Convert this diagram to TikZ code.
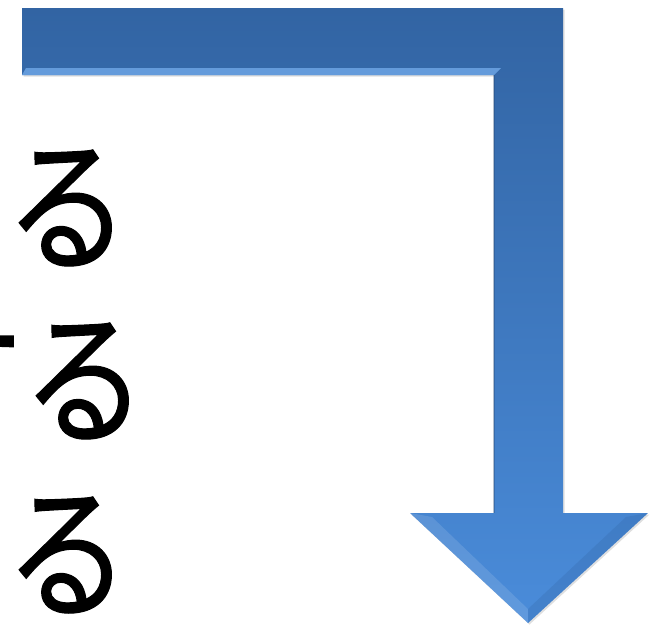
\documentclass[tikz,border=0pt]{standalone}
\usepackage{fontspec}
\usepackage{xcolor}
\newfontfamily\jpfont[FakeBold=0.8]{Noto Sans CJK JP}
\usetikzlibrary{shadows}
\definecolor{arrowtop}{RGB}{50,100,163}
\definecolor{arrowbot}{RGB}{74,140,218}
\definecolor{bevellight}{RGB}{112,168,232}

\begin{document}
\begin{tikzpicture}[x=1pt, y=-1pt, every node/.style={font=\jpfont\fontsize{146}{146}\selectfont, inner sep=0pt, xscale=0.85}]
      \useasboundingbox (0,0) rectangle (651,630);
      \clip (0,0) rectangle (651,630);
      % corners of the bent arrow
      \coordinate (TL) at (22,8);
      \coordinate (TR) at (563,8);
      \coordinate (HR) at (563,513);
      \coordinate (HRo) at (648,513);
      \coordinate (Tip) at (528,623);
      \coordinate (HLo) at (410,513);
      \coordinate (HL) at (494,513);
      \coordinate (IC) at (494,75);
      \coordinate (BL) at (22,75);
      % arrow body
      \shade[top color=arrowtop, bottom color=arrowbot,
        drop shadow={opacity=0.25, shadow xshift=1.5pt, shadow yshift=-1.5pt}]
        (TL) -- (TR) -- (HR) -- (HRo) -- (Tip) -- (HLo) -- (HL) -- (IC) -- (BL) -- cycle;
      % bevel along the lower edge of the top bar
      \fill[bevellight, opacity=0.8] (BL) -- (IC) -- ([shift={(7,-7)}]IC) -- ([shift={(4,-7)}]BL) -- cycle;
      \draw[arrowtop!70!black, opacity=0.35, line width=2pt] (IC) -- (HL);
      % bevel of the head
      \fill[white, opacity=0.12] (HLo) -- (Tip) -- ([shift={(0,-14)}]Tip) -- ([shift={(22,4)}]HLo) -- cycle;
      \fill[arrowtop, opacity=0.25] (HRo) -- (Tip) -- ([shift={(0,-14)}]Tip) -- ([shift={(-22,4)}]HRo) -- cycle;
      % text
      \node[anchor=east] (line1) at (129.5,206) {する};
      \node[anchor=east] (line2) at (146.5,379) {する};
      \node[anchor=east] (line3) at (129.5,553) {する};
    \end{tikzpicture}
\end{document}
